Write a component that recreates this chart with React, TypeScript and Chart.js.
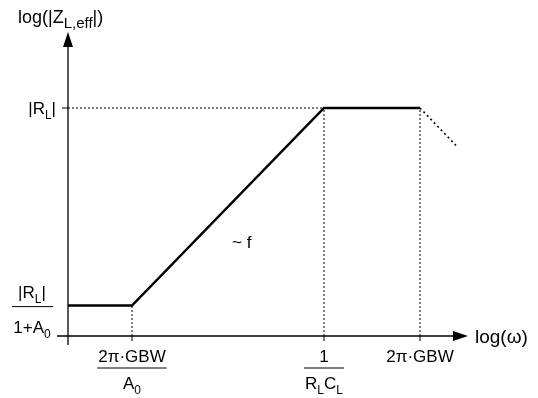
import React, { useEffect, useRef } from "react";
import { Chart, registerables } from "chart.js";

Chart.register(...registerables);

// log(omega) break points and |Z| levels (schematic units)
const logOmega = [0, 1.6, 6.4, 8.8];
const logZ = [1.0, 1.0, 7.5, 7.5];
const rolloffOmega = [8.8, 9.75];
const rolloffZ = [7.5, 6.2];
const xMax = 10;
const yMax = 10;
const breakIdx = [1, 2, 3];

type Run = { t: string; sub?: boolean };
const yTitle: Run[] = [{ t: "log(|Z" }, { t: "L,eff", sub: true }, { t: "|)" }];
const xTitle: Run[] = [{ t: "log(ω)" }];
const yTickLabel: Run[] = [{ t: "|R" }, { t: "L", sub: true }, { t: "|" }];
const yLowNum: Run[] = [{ t: "|R" }, { t: "L", sub: true }, { t: "|" }];
const yLowDen: Run[] = [{ t: "1+A" }, { t: "0", sub: true }];
const xTickNum: Run[][] = [[{ t: "2π·GBW" }], [{ t: "1" }], [{ t: "2π·GBW" }]];
const xTickDen: (Run[] | null)[] = [
  [{ t: "A" }, { t: "0", sub: true }],
  [{ t: "R" }, { t: "L", sub: true }, { t: "C" }, { t: "L", sub: true }],
  null,
];
const slopeLabel = "~ f";

const FONT = '"Liberation Sans", Arial, sans-serif';
const MAIN = 17;
const SUB = 12;

function runsWidth(ctx: CanvasRenderingContext2D, runs: Run[], main = MAIN, sub = SUB) {
  let w = 0;
  for (const r of runs) {
    ctx.font = `${r.sub ? sub : main}px ${FONT}`;
    w += ctx.measureText(r.t).width;
  }
  return w;
}

function drawRuns(
  ctx: CanvasRenderingContext2D,
  runs: Run[],
  x: number,
  y: number,
  align: "left" | "center" | "right",
  main = MAIN,
  sub = SUB
) {
  const w = runsWidth(ctx, runs, main, sub);
  let cx = align === "left" ? x : align === "center" ? x - w / 2 : x - w;
  ctx.textAlign = "left";
  ctx.textBaseline = "alphabetic";
  for (const r of runs) {
    ctx.font = `${r.sub ? sub : main}px ${FONT}`;
    ctx.fillText(r.t, cx, r.sub ? y + 5 : y);
    cx += ctx.measureText(r.t).width;
  }
  return w;
}

const axesPlugin = {
  id: "schematicAxes",
  afterDatasetsDraw(chart: any) {
    const ctx: CanvasRenderingContext2D = chart.ctx;
    const xs = chart.scales.x;
    const ys = chart.scales.y;
    const x0 = xs.getPixelForValue(0);
    const y0 = ys.getPixelForValue(0);
    const xTip = xs.getPixelForValue(xMax);
    const yTip = ys.getPixelForValue(yMax);
    ctx.save();
    ctx.strokeStyle = "#000";
    ctx.fillStyle = "#000";
    ctx.lineWidth = 1.3;
    // y axis
    ctx.beginPath();
    ctx.moveTo(x0, y0 + 9);
    ctx.lineTo(x0, yTip + 14);
    ctx.stroke();
    ctx.beginPath();
    ctx.moveTo(x0, yTip);
    ctx.lineTo(x0 - 5, yTip + 15);
    ctx.lineTo(x0 + 5, yTip + 15);
    ctx.closePath();
    ctx.fill();
    // x axis
    ctx.beginPath();
    ctx.moveTo(x0 - 11, y0);
    ctx.lineTo(xTip - 14, y0);
    ctx.stroke();
    ctx.beginPath();
    ctx.moveTo(xTip, y0);
    ctx.lineTo(xTip - 15, y0 - 5);
    ctx.lineTo(xTip - 15, y0 + 5);
    ctx.closePath();
    ctx.fill();
    // ticks
    ctx.lineWidth = 1;
    for (const i of breakIdx) {
      const px = xs.getPixelForValue(logOmega[i]);
      ctx.beginPath();
      ctx.moveTo(px, y0);
      ctx.lineTo(px, y0 + 5);
      ctx.stroke();
    }
    const yHigh = ys.getPixelForValue(logZ[2]);
    ctx.beginPath();
    ctx.moveTo(x0 - 6, yHigh);
    ctx.lineTo(x0, yHigh);
    ctx.stroke();

    // titles
    drawRuns(ctx, yTitle, 18, 23, "left", 18, 15);
    drawRuns(ctx, xTitle, xTip + 7, y0 + 7, "left", 19, 13);
    // y tick label
    drawRuns(ctx, yTickLabel, x0 - 12, yHigh + 6, "right");
    // low level fraction
    const yLow = ys.getPixelForValue(logZ[0]);
    const fc = 32;
    drawRuns(ctx, yLowNum, fc, yLow - 8, "center");
    ctx.lineWidth = 1;
    ctx.beginPath();
    ctx.moveTo(12, yLow + 1);
    ctx.lineTo(53, yLow + 1);
    ctx.stroke();
    drawRuns(ctx, yLowDen, fc, yLow + 27, "center");
    // x tick labels
    breakIdx.forEach((i, k) => {
      const px = xs.getPixelForValue(logOmega[i]);
      const numW = drawRuns(ctx, xTickNum[k], px, y0 + 26, "center");
      const den = xTickDen[k];
      if (den) {
        const denW = runsWidth(ctx, den);
        const bw = Math.max(numW, denW) + 2;
        ctx.beginPath();
        ctx.moveTo(px - bw / 2, y0 + 32);
        ctx.lineTo(px + bw / 2, y0 + 32);
        ctx.stroke();
        drawRuns(ctx, den, px, y0 + 53, "center");
      }
    });
    // slope label
    ctx.font = `${MAIN}px ${FONT}`;
    ctx.textAlign = "left";
    ctx.fillText(slopeLabel, xs.getPixelForValue(4.1), ys.getPixelForValue(2.9));
    ctx.restore();
  },
};

export default function App() {
  const ref = useRef<HTMLCanvasElement>(null);
  useEffect(() => {
    if (!ref.current) return;
    const main = logOmega.map((x, i) => ({ x, y: logZ[i] }));
    const rolloff = rolloffOmega.map((x, i) => ({ x, y: rolloffZ[i] }));
    const hGuide = [
      { x: 0, y: logZ[2] },
      { x: logOmega[2], y: logZ[2] },
    ];
    const vGuides: any[] = [];
    breakIdx.forEach((i) => {
      vGuides.push({ x: logOmega[i], y: 0 });
      vGuides.push({ x: logOmega[i], y: logZ[i] });
      vGuides.push({ x: logOmega[i], y: null });
    });
    const dotted = {
      borderColor: "#000",
      borderWidth: 1,
      borderDash: [2, 2],
      pointRadius: 0,
      fill: false,
      clip: false as any,
      spanGaps: false,
    };
    const chart = new Chart(ref.current, {
      type: "line",
      data: {
        datasets: [
          { ...dotted, data: hGuide },
          { ...dotted, data: vGuides },
          { ...dotted, borderWidth: 1.6, borderDash: [2, 3], data: rolloff },
          {
            data: main,
            borderColor: "#000",
            borderWidth: 2.5,
            pointRadius: 0,
            fill: false,
            clip: false as any,
            borderJoinStyle: "miter",
          },
        ],
      },
      options: {
        animation: false,
        responsive: false,
        parsing: false as any,
        layout: { padding: { left: 68, right: 70, top: 32, bottom: 62 } },
        plugins: { legend: { display: false }, tooltip: { enabled: false } },
        scales: {
          x: { type: "linear", min: 0, max: xMax, display: false },
          y: { type: "linear", min: 0, max: yMax, display: false },
        },
      },
      plugins: [axesPlugin],
    });
    return () => chart.destroy();
  }, []);
  return (
    <div style={{ position: "absolute", left: 0, top: 0, width: 538, height: 398, background: "#fff" }}>
      <canvas ref={ref} width={538} height={398} style={{ width: 538, height: 398, display: "block" }} />
    </div>
  );
}
